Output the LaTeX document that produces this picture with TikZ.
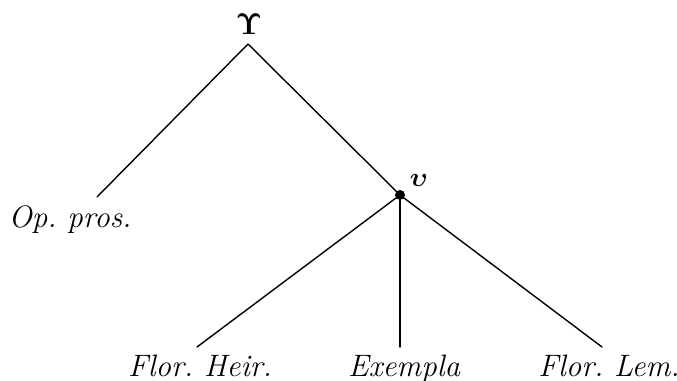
\RequirePackage{fix-cm}
\documentclass[tikz,border=0pt]{standalone}
\usepackage{amsmath,bm}
\usepackage{fontspec}
\begin{document}
\begin{tikzpicture}[x=1pt,y=-1pt,
  edge/.style={line width=1.4pt,line cap=round},
  lab/.style={font=\fontsize{31}{36}\selectfont\itshape\frenchspacing,inner sep=0pt,anchor=base},
  greek/.style={inner sep=0pt}]
\useasboundingbox (0,0) rectangle (677,380);
\node[greek,font=\fontsize{30}{34}\selectfont] (U) at (249,24) {$\bm{\Upsilon}$};
\coordinate (top) at (248,44);
\coordinate (u) at (400,195);
\node[greek,font=\fontsize{27}{30}\selectfont] (ul) at (419,180) {$\bm{\upsilon}$};
\coordinate (op) at (97,197);
\coordinate (fh) at (197,347);
\coordinate (ex) at (400,347);
\coordinate (fl) at (602,347);
\node[lab] (OP) at (70,227) {Op. pros.};
\node[lab] (FH) at (200,376) {Flor. Heir.};
\node[lab] (EX) at (404,376) {Exempla};
\node[lab] (FL) at (609,376) {Flor. Lem.};
\draw[edge] (top) -- (op);
\draw[edge] (top) -- (u);
\draw[edge] (u) -- (fh);
\draw[edge] (u) -- (ex);
\draw[edge] (u) -- (fl);
\fill (u) circle (5);
\end{tikzpicture}
\end{document}
